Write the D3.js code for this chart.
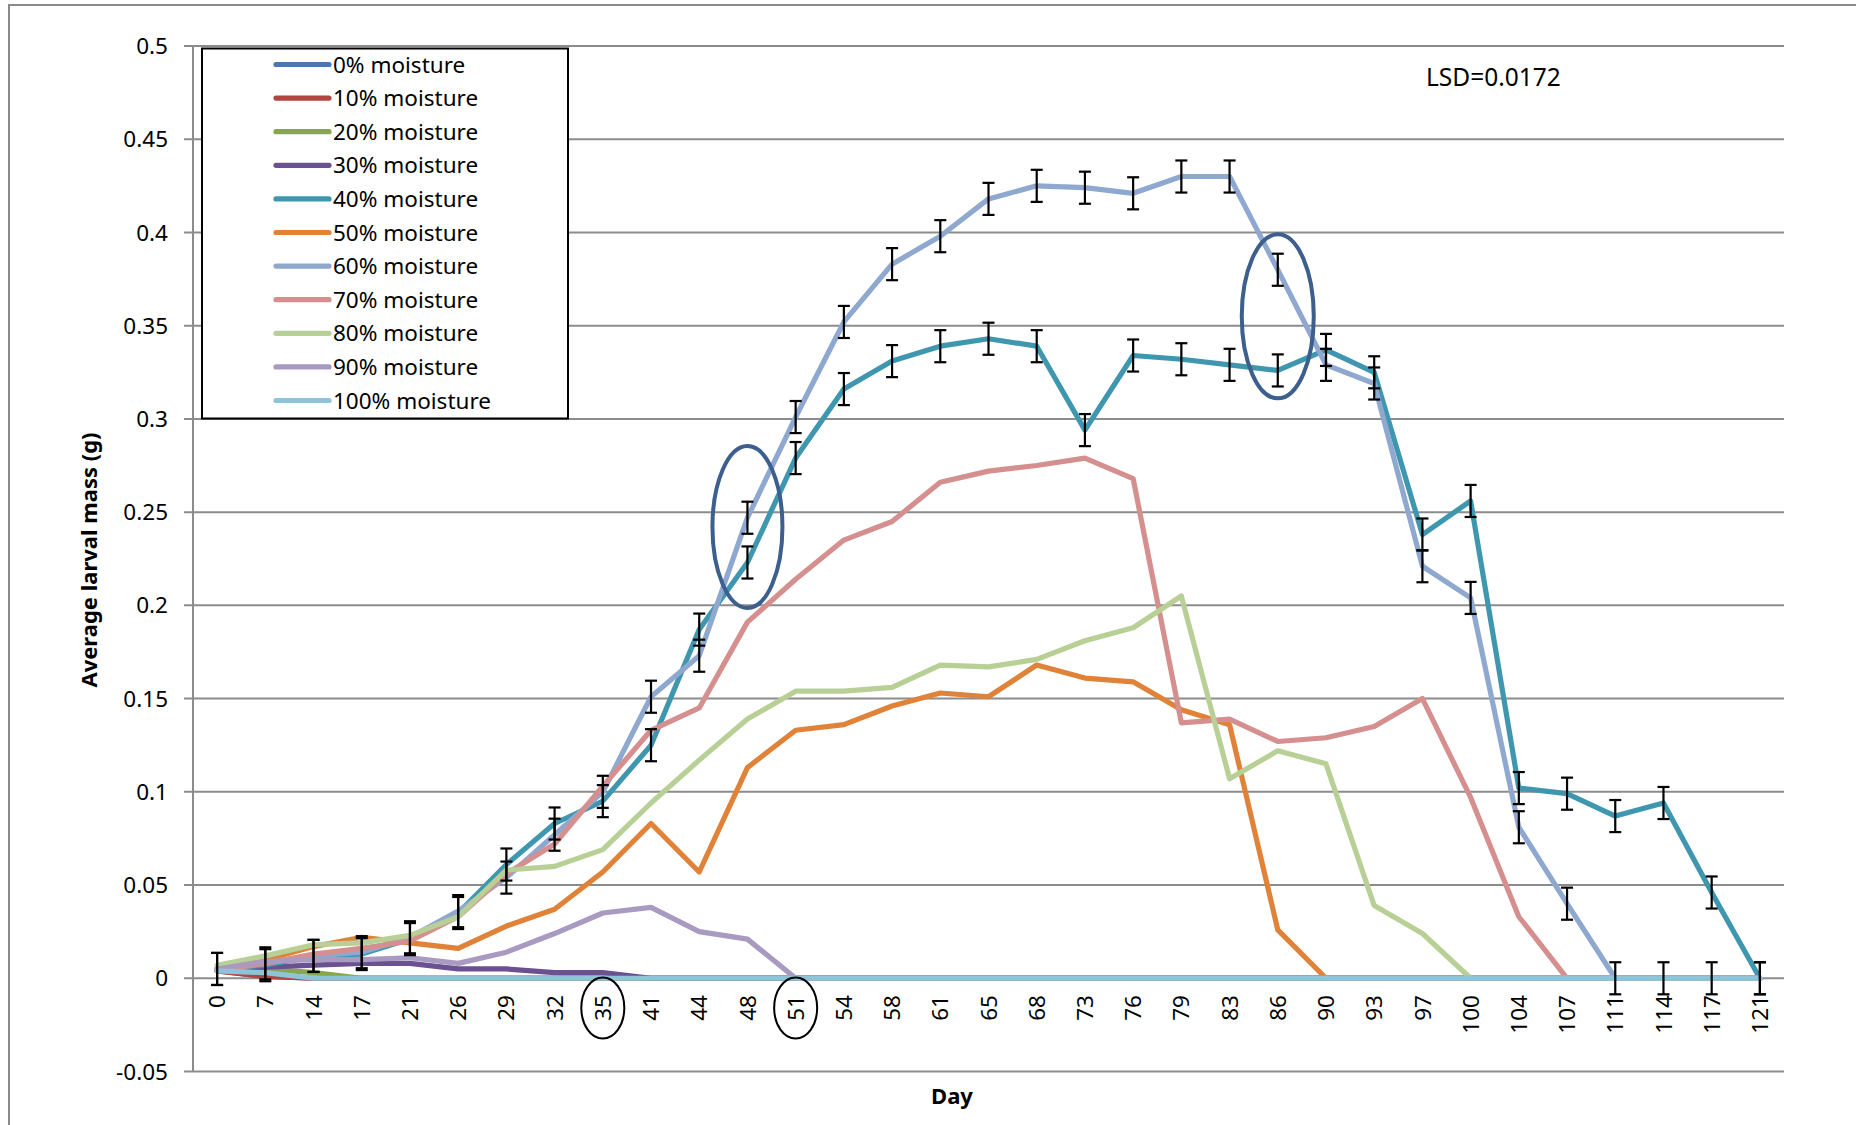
<!DOCTYPE html>
<html>
<head>
<meta charset="utf-8">
<script src="https://cdn.jsdelivr.net/npm/d3@7"></script>
<style>
  body { margin: 0; background: #fff; }
  text { font-family: "Noto Sans", "Open Sans", sans-serif; fill: #000; }
</style>
</head>
<body>
<svg id="chart" width="1856" height="1125"></svg>
<script>
/**
 * Average larval mass by day, per moisture level
 */

var days = [0, 7, 14, 17, 21, 26, 29, 32, 35, 41, 44, 48, 51, 54, 58, 61, 65,
            68, 73, 76, 79, 83, 86, 90, 93, 97, 100, 104, 107, 111, 114, 117, 121];

var names = ["0% moisture", "10% moisture", "20% moisture", "30% moisture",
             "40% moisture", "50% moisture", "60% moisture", "70% moisture",
             "80% moisture", "90% moisture", "100% moisture"];

var colors = ["#4A78B0", "#B5443F", "#89A64A", "#6C5192", "#3F97AF", "#E08339",
              "#8FA8D0", "#D58F8E", "#B8D096", "#A99AC2", "#8DC4D8"];

var m0   = [0.004, 0.001, 0, 0, 0, 0, 0, 0, 0, 0, 0, 0, 0, 0, 0, 0, 0, 0, 0, 0, 0, 0, 0, 0, 0, 0, 0, 0, 0, 0, 0, 0, 0];
var m10  = [0.004, 0.001, 0, 0, 0, 0, 0, 0, 0, 0, 0, 0, 0, 0, 0, 0, 0, 0, 0, 0, 0, 0, 0, 0, 0, 0, 0, 0, 0, 0, 0, 0, 0];
var m20  = [0.006, 0.005, 0.003, 0, 0, 0, 0, 0, 0, 0, 0, 0, 0, 0, 0, 0, 0, 0, 0, 0, 0, 0, 0, 0, 0, 0, 0, 0, 0, 0, 0, 0, 0];
var m30  = [0.004, 0.006, 0.007, 0.008, 0.008, 0.005, 0.005, 0.003, 0.003, 0, 0, 0, 0, 0, 0, 0, 0, 0, 0, 0, 0, 0, 0, 0, 0, 0, 0, 0, 0, 0, 0, 0, 0];
var m40  = [0.005, 0.007, 0.012, 0.013, 0.021, 0.035, 0.061, 0.083, 0.095, 0.125, 0.187, 0.223, 0.279, 0.316, 0.331, 0.339, 0.343,
            0.339, 0.294, 0.334, 0.332, 0.329, 0.326, 0.337, 0.325, 0.238, 0.256, 0.102, 0.099, 0.087, 0.094, 0.046, 0];
var m50  = [0.004, 0.010, 0.017, 0.022, 0.019, 0.016, 0.028, 0.037, 0.057, 0.083, 0.057, 0.113, 0.133, 0.136, 0.146, 0.153, 0.151,
            0.168, 0.161, 0.159, 0.144, 0.136, 0.026, 0, 0, 0, 0, 0, 0, 0, 0, 0, 0];
var m60  = [0.005, 0.008, 0.012, 0.014, 0.022, 0.036, 0.054, 0.077, 0.100, 0.151, 0.173, 0.247, 0.301, 0.352, 0.383, 0.398, 0.418,
            0.425, 0.424, 0.421, 0.430, 0.430, 0.380, 0.329, 0.319, 0.221, 0.204, 0.081, 0.040, 0, 0, 0, 0];
var m70  = [0.004, 0.008, 0.013, 0.016, 0.020, 0.033, 0.056, 0.072, 0.103, 0.133, 0.145, 0.191, 0.214, 0.235, 0.245, 0.266, 0.272,
            0.275, 0.279, 0.268, 0.137, 0.139, 0.127, 0.129, 0.135, 0.150, 0.097, 0.033, 0, 0, 0, 0, 0];
var m80  = [0.007, 0.012, 0.018, 0.019, 0.023, 0.033, 0.058, 0.060, 0.069, 0.094, 0.117, 0.139, 0.154, 0.154, 0.156, 0.168, 0.167,
            0.171, 0.181, 0.188, 0.205, 0.107, 0.122, 0.115, 0.039, 0.024, 0, 0, 0, 0, 0, 0, 0];
var m90  = [0.005, 0.009, 0.010, 0.010, 0.011, 0.008, 0.014, 0.024, 0.035, 0.038, 0.025, 0.021, 0, 0, 0, 0, 0,
            0, 0, 0, 0, 0, 0, 0, 0, 0, 0, 0, 0, 0, 0, 0, 0];
var m100 = [0.004, 0.003, 0, 0, 0, 0, 0, 0, 0, 0, 0, 0, 0, 0, 0, 0, 0, 0, 0, 0, 0, 0, 0, 0, 0, 0, 0, 0, 0, 0, 0, 0, 0];

var series = [m0, m10, m20, m30, m40, m50, m60, m70, m80, m90, m100];

var lsd = 0.0172;
var yTicks = [-0.05, 0, 0.05, 0.1, 0.15, 0.2, 0.25, 0.3, 0.35, 0.4, 0.45, 0.5];
var errSeries = [4, 6];          // 40% and 60% carry error bars (± LSD/2)
var circledDays = [35, 51];
var marks = [{day: 48, value: 0.242, rx: 35, ry: 81}, {day: 86, value: 0.355, rx: 36, ry: 82}];

var svg = d3.select("#chart");

var scales = {
  "x": d3.scaleBand()
    .domain(days)
    .range([193, 1784]),
  "y": d3.scaleLinear()
    .domain([-0.05, 0.5])
    .range([1071.5, 46])
};
var cx = (d) => scales.x(d) + scales.x.bandwidth() / 2;

// chart area border
svg.append("rect")
  .attr("x", 9).attr("y", 5)
  .attr("width", 1900).attr("height", 1200)
  .attr("fill", "none")
  .attr("stroke", "#8a8a8a")
  .attr("stroke-width", 2);

// gridlines
svg.append("g").selectAll("line")
  .data(yTicks).enter()
  .append("line")
  .attr("x1", 184).attr("x2", 1784)
  .attr("y1", (d) => scales.y(d)).attr("y2", (d) => scales.y(d))
  .attr("stroke", "#8c8c8c")
  .attr("stroke-width", 2);

// value axis
svg.append("line")
  .attr("x1", 193).attr("x2", 193)
  .attr("y1", scales.y(0.5)).attr("y2", scales.y(-0.05))
  .attr("stroke", "#8c8c8c")
  .attr("stroke-width", 2);

svg.append("g").selectAll("text")
  .data(yTicks).enter()
  .append("text")
  .attr("x", 168)
  .attr("y", (d) => scales.y(d))
  .attr("dy", "0.36em")
  .attr("text-anchor", "end")
  .style("font-size", "22.5px")
  .text((d) => String(+d.toFixed(2)));

// category labels
svg.append("g").selectAll("text")
  .data(days).enter()
  .append("text")
  .attr("transform", (d) => "translate(" + cx(d) + ",995) rotate(-90)")
  .attr("dy", "0.36em")
  .attr("text-anchor", "end")
  .style("font-size", "22.5px")
  .text((d) => d);

// series lines
var line = d3.line()
  .x((d, i) => cx(days[i]))
  .y((d) => scales.y(d));

svg.append("g").selectAll("path")
  .data(series).enter()
  .append("path")
  .attr("d", line)
  .attr("fill", "none")
  .attr("stroke", (d, i) => colors[i])
  .attr("stroke-width", 5.2)
  .attr("stroke-linejoin", "round")
  .attr("stroke-linecap", "round");

// error bars
var errs = [];
errSeries.forEach((s) => series[s].forEach((v, i) => errs.push({day: days[i], v: v})));

var eb = svg.append("g").attr("stroke", "#000").attr("stroke-width", 2.2);
eb.selectAll(".stem").data(errs).enter()
  .append("line")
  .attr("x1", (d) => cx(d.day)).attr("x2", (d) => cx(d.day))
  .attr("y1", (d) => scales.y(d.v + lsd / 2)).attr("y2", (d) => scales.y(d.v - lsd / 2));
eb.selectAll(".top").data(errs).enter()
  .append("line")
  .attr("x1", (d) => cx(d.day) - 6).attr("x2", (d) => cx(d.day) + 6)
  .attr("y1", (d) => scales.y(d.v + lsd / 2)).attr("y2", (d) => scales.y(d.v + lsd / 2));
eb.selectAll(".bot").data(errs).enter()
  .append("line")
  .attr("x1", (d) => cx(d.day) - 6).attr("x2", (d) => cx(d.day) + 6)
  .attr("y1", (d) => scales.y(d.v - lsd / 2)).attr("y2", (d) => scales.y(d.v - lsd / 2));

// hand-drawn highlight ellipses
svg.append("g").selectAll("ellipse")
  .data(marks).enter()
  .append("ellipse")
  .attr("cx", (d) => cx(d.day))
  .attr("cy", (d) => scales.y(d.value))
  .attr("rx", (d) => d.rx).attr("ry", (d) => d.ry)
  .attr("fill", "none")
  .attr("stroke", "#3C5F8E")
  .attr("stroke-width", 4);

svg.append("g").selectAll("ellipse")
  .data(circledDays).enter()
  .append("ellipse")
  .attr("cx", (d) => cx(d))
  .attr("cy", 1008)
  .attr("rx", 21.5).attr("ry", 30.5)
  .attr("fill", "none")
  .attr("stroke", "#000")
  .attr("stroke-width", 2);

// legend
var legend = svg.append("g");
legend.append("rect")
  .attr("x", 202).attr("y", 48.5)
  .attr("width", 366).attr("height", 370)
  .attr("fill", "#fff")
  .attr("stroke", "#000")
  .attr("stroke-width", 2);

var rows = legend.selectAll("g")
  .data(names).enter()
  .append("g")
  .attr("transform", (d, i) => "translate(0," + (64.5 + i * 33.6) + ")");
rows.append("line")
  .attr("x1", 276).attr("x2", 329)
  .attr("stroke", (d, i) => colors[i])
  .attr("stroke-width", 5.2)
  .attr("stroke-linecap", "round");
rows.append("text")
  .attr("x", 333)
  .attr("dy", "0.36em")
  .style("font-size", "22.5px")
  .text((d) => d);

// annotation and axis titles
svg.append("text")
  .attr("x", 1426).attr("y", 86)
  .style("font-size", "24.5px")
  .text("LSD=" + lsd);

svg.append("text")
  .attr("x", 952).attr("y", 1104)
  .attr("text-anchor", "middle")
  .style("font-size", "22px")
  .style("font-weight", "bold")
  .text("Day");

svg.append("text")
  .attr("transform", "translate(97,560) rotate(-90)")
  .attr("text-anchor", "middle")
  .style("font-size", "22px")
  .style("font-weight", "bold")
  .text("Average larval mass (g)");
</script>
</body>
</html>
